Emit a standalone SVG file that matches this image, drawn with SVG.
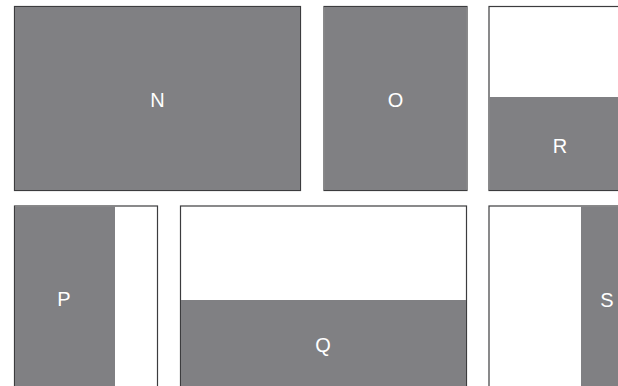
<svg xmlns="http://www.w3.org/2000/svg" width="618" height="386" viewBox="0 0 618 386">
<style>
.box{fill:#ffffff;stroke:#3c3c3e;stroke-width:1.2}
.fill{fill:#808083}
.lbl{font-family:"Liberation Sans",Arial,sans-serif;font-size:20px;fill:#ffffff;text-anchor:middle}
</style>
<rect width="618" height="386" fill="#ffffff"/>
<g id="N">
<rect class="box" x="14.5" y="6.5" width="286" height="184"/>
<rect class="fill" x="15" y="7" width="285" height="183"/>
<text class="lbl" x="157.5" y="107">N</text>
</g>
<g id="O">
<rect class="box" x="324" y="6.5" width="143" height="184"/>
<rect class="fill" x="324.5" y="7" width="142" height="183"/>
<text class="lbl" x="395.5" y="107">O</text>
</g>
<g id="R">
<rect class="box" x="489" y="6.5" width="140" height="184"/>
<rect class="fill" x="489.5" y="97" width="140" height="93"/>
<text class="lbl" x="560" y="153">R</text>
</g>
<g id="P">
<rect class="box" x="14.5" y="206" width="143" height="190"/>
<rect class="fill" x="15" y="206.5" width="100" height="190"/>
<text class="lbl" x="64" y="306">P</text>
</g>
<g id="Q">
<rect class="box" x="180.5" y="206" width="286" height="190"/>
<rect class="fill" x="181" y="300" width="285" height="96"/>
<text class="lbl" x="323" y="352">Q</text>
</g>
<g id="S">
<rect class="box" x="489" y="206" width="140" height="190"/>
<rect class="fill" x="581" y="206.5" width="48" height="190"/>
<text class="lbl" x="607" y="307">S</text>
</g>
<g id="connectors"/>
</svg>
